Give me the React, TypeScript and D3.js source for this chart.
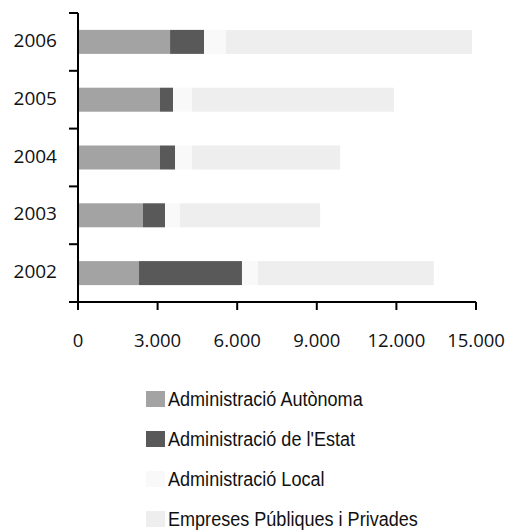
import React from 'react';
import * as d3 from 'd3';

const years = ['2002', '2003', '2004', '2005', '2006'];
const seriesNames = [
    'Administració Autònoma',
    "Administració de l'Estat",
    'Administració Local',
    'Empreses Públiques i Privades',
];
const autonoma = [2300, 2450, 3090, 3090, 3470];
const estat = [3880, 830, 570, 490, 1280];
const local = [600, 565, 640, 715, 830];
const empreses = [6630, 5280, 5580, 7610, 9270];
const xTicks = [0, 3000, 6000, 9000, 12000, 15000];
const colors = ['#a3a3a3', '#595959', '#f9f9f9', '#eeeeee'];

const width = 510;
const height = 531;
const margin = { top: 13, left: 78, right: 34, plotBottom: 302 };

const App: React.FC = () => {
    const rows = years.map((y, i) => ({
        year: y,
        values: [autonoma[i], estat[i], local[i], empreses[i]],
    }));

    const xScale = d3.scaleLinear().domain([0, 15000]).range([margin.left, width - margin.right]);
    // 2006 on top
    const yScale = d3.scaleBand<string>()
        .domain([...years].reverse())
        .range([margin.top, margin.plotBottom])
        .paddingInner(0.585)
        .paddingOuter(0.2925);
    const bandStep = (margin.plotBottom - margin.top) / years.length;
    const barH = 24;

    const fmt = (v: number) => v === 0 ? '0' : d3.format(',')(v).replace(/,/g, '.');
    const tickFont = "'Open Sans', sans-serif";
    const legendFont = "'Liberation Sans', sans-serif";

    return (
        <svg width={width} height={height} style={{ position: 'absolute', left: 0, top: 0 }}>
            {rows.map((r) => {
                const stack = d3.cumsum(r.values);
                const cy = (yScale(r.year) ?? 0) + yScale.bandwidth() / 2;
                return (
                    <g key={r.year}>
                        {r.values.map((v, k) => {
                            const x0 = xScale(stack[k] - v);
                            const x1 = xScale(stack[k]);
                            return <rect key={k} x={x0} y={cy - barH / 2} width={x1 - x0} height={barH} fill={colors[k]} />;
                        })}
                        <text x={57} y={cy + 5} textAnchor="end" fontFamily={tickFont} fontSize={19} fill="#111">{r.year}</text>
                    </g>
                );
            })}

            {/* y axis */}
            <line x1={margin.left} x2={margin.left} y1={margin.top} y2={margin.plotBottom} stroke="#000" strokeWidth={2} />
            {d3.range(years.length + 1).map((i) => {
                const y = margin.top + i * bandStep;
                return <line key={i} x1={margin.left - 9} x2={margin.left} y1={y} y2={y} stroke="#000" strokeWidth={2} />;
            })}

            {/* x axis */}
            <line x1={margin.left - 9} x2={xScale(15000)} y1={margin.plotBottom} y2={margin.plotBottom} stroke="#000" strokeWidth={2} />
            {xTicks.map((t) => (
                <g key={t}>
                    <line x1={xScale(t)} x2={xScale(t)} y1={margin.plotBottom} y2={margin.plotBottom + 8} stroke="#000" strokeWidth={2} />
                    <text x={xScale(t)} y={347} textAnchor="middle" fontFamily={tickFont} fontSize={18.5} fill="#111">{fmt(t)}</text>
                </g>
            ))}

            {/* legend */}
            {seriesNames.map((name, i) => {
                const cy = 399 + i * 40;
                return (
                    <g key={name}>
                        <rect x={146} y={cy - 8} width={19} height={16} fill={colors[i]} />
                        <text transform={`translate(168,${cy + 6.5}) scale(0.86,1)`} fontFamily={legendFont} fontSize={21} fill="#111">{name}</text>
                    </g>
                );
            })}
        </svg>
    );
};

export default App;
